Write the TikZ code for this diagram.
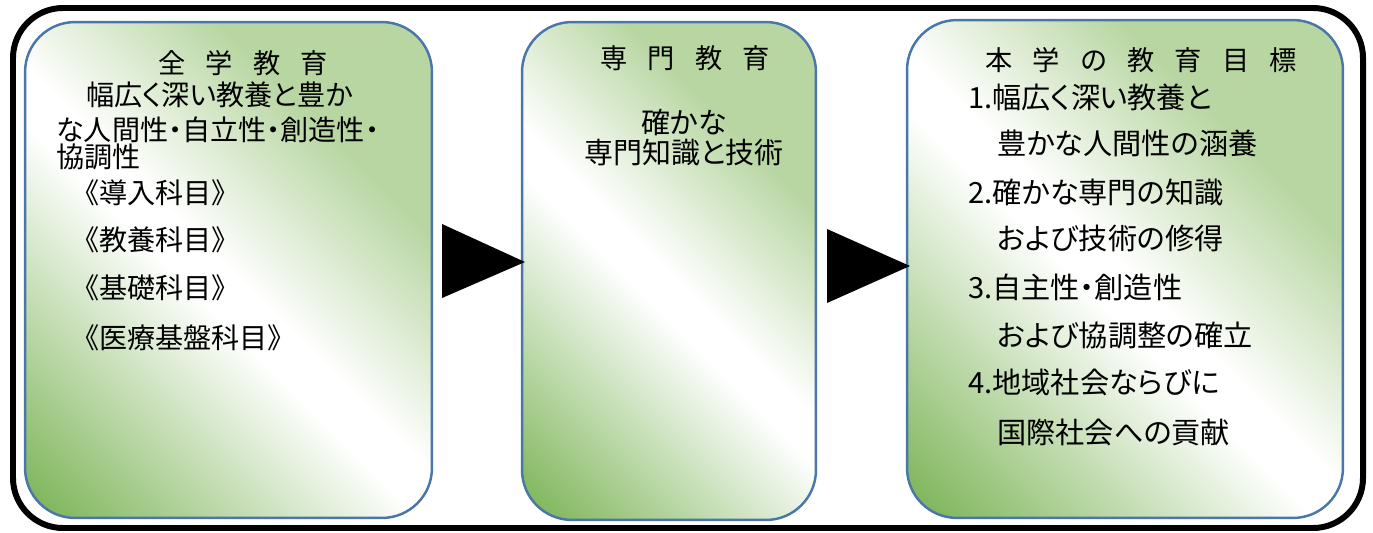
\documentclass[tikz,border=0pt]{standalone}
\usepackage{fontspec}
\setmainfont[CharacterWidth=AlternateProportional]{Noto Sans CJK JP}
\newfontfamily\spacedjp[WordSpace=3.3]{Noto Sans CJK JP}
\definecolor{dkg}{RGB}{119,177,80}
\definecolor{ltg}{RGB}{184,214,162}
\definecolor{bord}{RGB}{74,118,168}
\pgfdeclarehorizontalshading{greenband}{100bp}{color(0bp)=(dkg); color(25bp)=(dkg); color(47bp)=(white); color(50bp)=(white); color(63bp)=(ltg); color(100bp)=(ltg)}
\newcommand{\greenfill}[7]{% x1 y1 x2 y2 cx cy S
  \begin{scope}
    \clip[rounded corners=1cm] (#1,#2) rectangle (#3,#4);
    \begin{scope}[transform canvas={rotate around={45:(#5,#6)}}]
      \shade[shading=greenband] (#5,#6) +(-#7,-#7) rectangle +(#7,#7);
    \end{scope}
  \end{scope}}
\begin{document}
\begin{tikzpicture}[x=0.02cm,y=-0.02cm,
  box/.style={draw=bord, line width=1.4pt, rounded corners=1cm, inner sep=0pt},
  txt/.style={font=\fontsize{16}{19}\selectfont, inner sep=0pt},
  txtm/.style={font=\fontsize{16.5}{19}\selectfont, inner sep=0pt},
  txtb/.style={font=\fontsize{16.6}{19}\selectfont, inner sep=0pt, anchor=west},
  ttl/.style={font=\fontsize{15.5}{18}\spacedjp, inner sep=0pt},
  lft/.style={txt, anchor=west},
  arrowtri/.style={fill=black}]
\useasboundingbox (0,0) rectangle (1373,532);
\draw[line width=3.4pt, rounded corners=1cm] (13,8) rectangle (1363,528);

\greenfill{25}{22}{432}{518}{228.5}{270}{319}
\greenfill{522}{22}{816}{520}{669}{271}{280}
\greenfill{907}{20}{1343}{518}{1125}{269}{330}

\node[box, minimum width=8.14cm, minimum height=9.92cm] (box1) at (228.5,270) {};
\node[box, minimum width=5.88cm, minimum height=9.96cm] (box2) at (669,271) {};
\node[box, minimum width=8.72cm, minimum height=9.96cm] (box3) at (1125,269) {};

\fill[arrowtri] (442,224) -- (525,262) -- (442,298) -- cycle;
\fill[arrowtri] (827,229) -- (910,266) -- (827,303) -- cycle;

% box 1
\node[ttl] (t1) at (243,63) {全 学 教 育};
\node[lft] (a1) at (86,95) {幅広く深い教養と豊か};
\node[lft] (a2) at (56,130) {な人間性・自立性・創造性・};
\node[lft] (a3) at (56,157) {協調性};
\node[lft] (a4) at (85,193) {《導入科目》};
\node[lft] (a5) at (85,240) {《教養科目》};
\node[lft] (a6) at (85,288) {《基礎科目》};
\node[lft] (a7) at (85,338) {《医療基盤科目》};

% box 2
\node[ttl] (t2) at (685,58) {専 門 教 育};
\node[txtm] (b1) at (684,122) {確かな};
\node[txtm] (b2) at (684,153) {専門知識と技術};

% box 3
\node[ttl] (t3) at (1141,60) {本 学 の 教 育 目 標};
\node[txtb] (c1) at (968,97) {1.幅広く深い教養と};
\node[txtb] (c2) at (997,143) {豊かな人間性の涵養};
\node[txtb] (c3) at (968,192) {2.確かな専門の知識};
\node[txtb] (c4) at (997,238) {および技術の修得};
\node[txtb] (c5) at (968,287) {3.自主性・創造性};
\node[txtb] (c6) at (997,335) {および協調整の確立};
\node[txtb] (c7) at (968,382) {4.地域社会ならびに};
\node[txtb] (c8) at (997,432) {国際社会への貢献};
\end{tikzpicture}
\end{document}
